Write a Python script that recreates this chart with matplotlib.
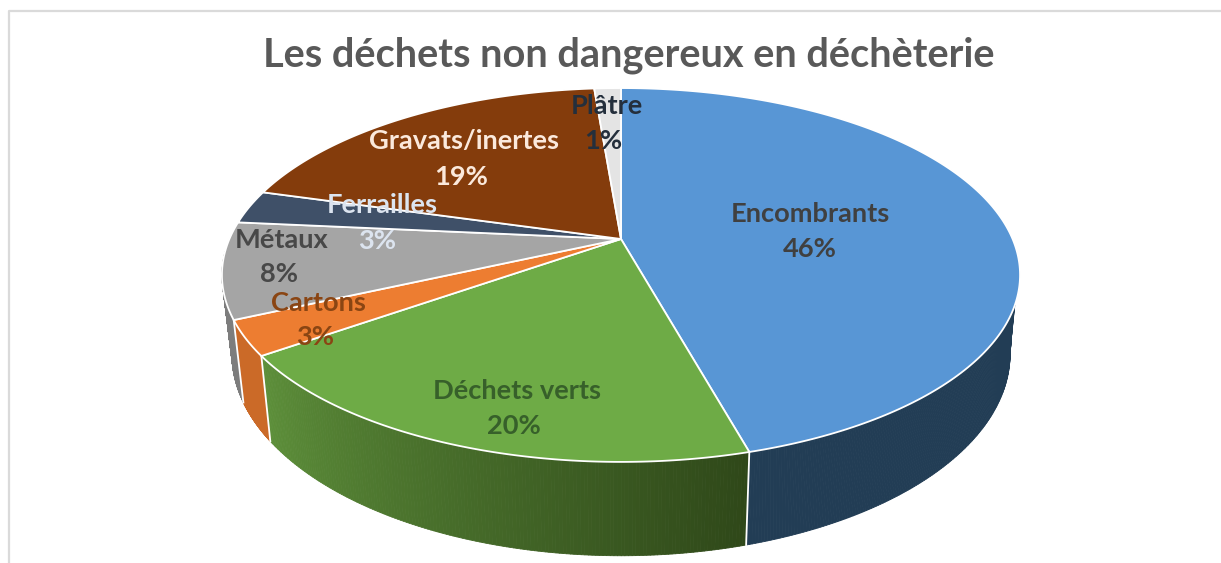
import numpy as np
import matplotlib
matplotlib.use("Agg")
import matplotlib.pyplot as plt
from matplotlib.collections import PolyCollection
from matplotlib.colors import to_rgb

# Data
categories = ["Encombrants", "Déchets verts", "Cartons", "Métaux", "Ferrailles", "Gravats/inertes", "Plâtre"]
values = [45.7, 19.5, 3.0, 8.3, 2.9, 19.3, 1.3]

top_colors = ["#5896D5", "#6EAB46", "#ED7D31", "#A5A5A5", "#3F5068", "#843C0C", "#E4E4E4"]
side_left = ["#223D55", "#5D8F3A", "#CB6A28", "#7D7D7D", "#2F3D50", "#5F2B08", "#ABABAB"]
side_right = ["#223D55", "#2F4819", "#CB6A28", "#7D7D7D", "#2F3D50", "#5F2B08", "#ABABAB"]
text_colors = ["#404040", "#37602A", "#8A4513", "#484848", "#DCE4EF", "#FBE9DC", "#242F3C"]

name_pos = [(810, 214), (517, 391), (318, 303), (282, 240), (382, 205), (464, 141), (607, 106)]
pct_pos = [(810, 249), (514, 426), (315, 337), (279, 274), (377, 241), (461, 177), (603, 141)]

# Perspective pie geometry, in pixels
cx, cy = 621, 239
a, b, k = 391.6, 180, 0.1925


def top_rim(theta):
    x, y = np.sin(theta), np.cos(theta)
    return cx + a * x / (1 + k * y), cy - b * y / (1 + k * y)


def bottom_rim(theta):
    px, py = top_rim(theta)
    return cx + 0.975 * (px - cx), cy + 1.08 * (py - cy) + 76


fig = plt.figure(figsize=(12.21, 5.63), dpi=100)
ax = fig.add_axes([0, 0, 1, 1])
ax.set_xlim(0, 1221)
ax.set_ylim(563, 0)
ax.axis("off")

# Frame of the pasted chart
ax.plot([9, 9, 1221], [563, 11, 11], color="#DADADA", lw=1.6)

edges = np.radians(np.cumsum([0] + values) * 3.6)

# Side wall, only the front part shows
for i in range(len(values)):
    start, end = edges[i], edges[i + 1]
    start_top = max(start, np.radians(110))
    start_bottom = max(start, np.radians(100))
    end = min(end, np.radians(266))
    if end <= start_top:
        continue
    tx, ty = top_rim(np.linspace(start_top, end, 160))
    bx, by = bottom_rim(np.linspace(start_bottom, end, 160))
    quads = []
    cols = []
    c0, c1 = np.array(to_rgb(side_left[i])), np.array(to_rgb(side_right[i]))
    for j in range(159):
        quads.append([(tx[j], ty[j]), (tx[j + 1], ty[j + 1]), (bx[j + 1], by[j + 1]), (bx[j], by[j])])
        f = 1 - j / 158
        cols.append(c0 + (c1 - c0) * f)
    ax.add_collection(PolyCollection(quads, facecolors=cols, edgecolors=cols, linewidths=0.6, zorder=2))
    # white seam at the end of a wall
    if i in (0, 1, 2):
        ax.plot([tx[-1], bx[-1]], [ty[-1], by[-1]], color="white", lw=1.3, zorder=3)

# Top faces
for i in range(len(values)):
    t = np.linspace(edges[i], edges[i + 1], 200)
    tx, ty = top_rim(t)
    ax.fill(np.r_[cx, tx], np.r_[cy, ty], color=top_colors[i], ec="white", lw=1.3, zorder=4, joinstyle="round")

for i, name in enumerate(categories):
    ax.text(*name_pos[i], name, color=text_colors[i], fontsize=19.6, fontweight="bold", family="Lato",
            ha="center", va="center", zorder=6)
    ax.text(*pct_pos[i], f"{round(values[i])}%", color=text_colors[i], fontsize=19.6, fontweight="bold",
            family="Lato", ha="center", va="center", zorder=6)

ax.text(628.5, 55, "Les déchets non dangereux en déchèterie", color="#595959", fontsize=28.6,
        fontweight="bold", family="Lato", ha="center", va="center")

fig.savefig("out.png", dpi=100)
